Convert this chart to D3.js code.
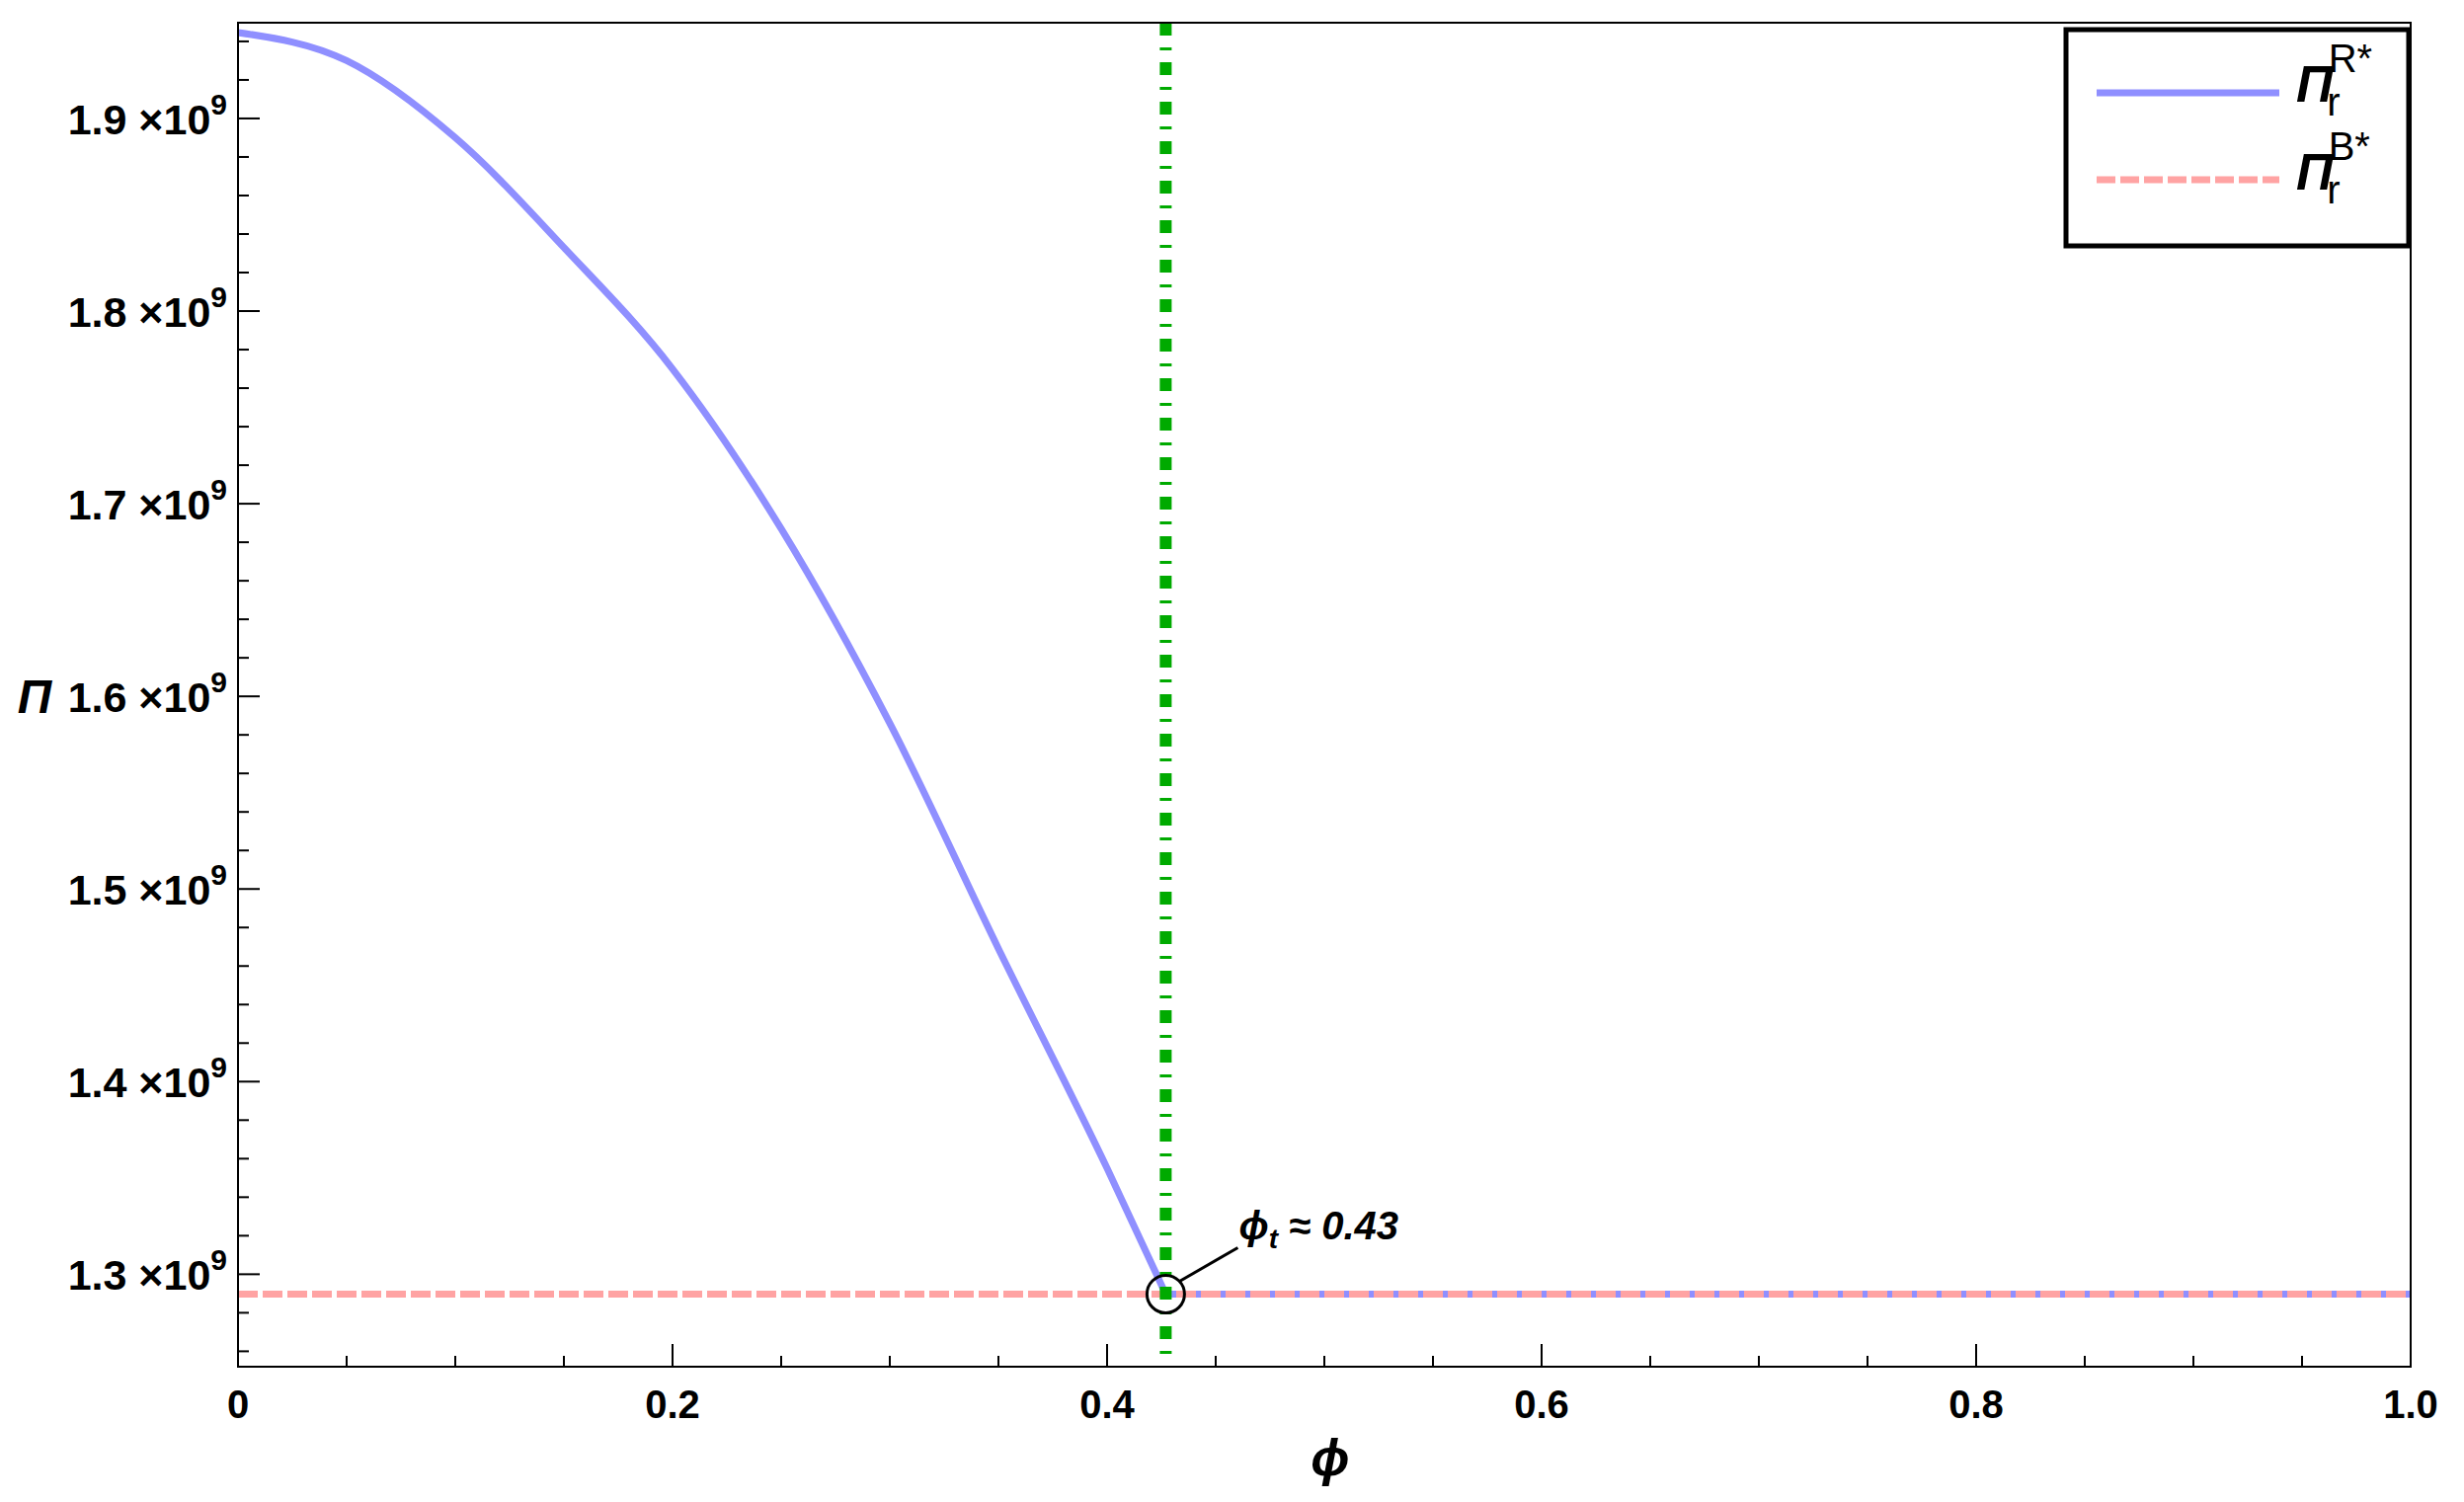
<!DOCTYPE html><html><head><meta charset="utf-8">
<script src="https://cdn.jsdelivr.net/npm/d3@7"></script>
<style>body{margin:0;background:#fff}text{font-family:"Liberation Sans",Arial,sans-serif;font-weight:bold}</style>
</head><body><svg id="c" width="2495" height="1521"></svg><script>
const phiR=[0,0.05,0.1,0.15,0.2,0.25,0.3,0.35,0.4,0.427];
const piR=[1.9446,1.930,1.890,1.833,1.770,1.687,1.586,1.469,1.355,1.2897];
const piB=1.2897;
const phiT=0.427;
const xTicks=[0,0.2,0.4,0.6,0.8,1.0];
const yTicks=[1.3,1.4,1.5,1.6,1.7,1.8,1.9];
const svg=d3.select("#c");
const L=241,R=2441,T=23,B=1384;
const x=d3.scaleLinear().domain([0,1]).range([L,R]);
const y=d3.scaleLinear().domain([1.252,1.9497]).range([B,T]);
const g=svg.append("g");
d3.range(0,1.0001,0.05).forEach(v=>{const maj=Math.abs(v*5-Math.round(v*5))<1e-6;
 g.append("line").attr("x1",x(v)).attr("x2",x(v)).attr("y1",B).attr("y2",B-(maj?23:11)).attr("stroke","#000").attr("stroke-width",2);});
d3.range(1.26,1.95,0.02).forEach(v=>{const maj=Math.abs(v*10-Math.round(v*10))<1e-6;
 g.append("line").attr("x1",L).attr("x2",L+(maj?22:11)).attr("y1",y(v)).attr("y2",y(v)).attr("stroke","#000").attr("stroke-width",2);});
xTicks.forEach(v=>g.append("text").attr("x",x(v)).attr("y",B+52).attr("text-anchor","middle").attr("font-size",40).text(v===0?"0":v.toFixed(1)));
yTicks.forEach(v=>{const t=g.append("text").attr("x",230).attr("y",y(v)+16).attr("text-anchor","end").attr("font-size",43);
 t.append("tspan").text(v.toFixed(1)+" ×10");t.append("tspan").attr("dy",-20).attr("font-size",30).text("9");});
const line=d3.line().x(d=>x(d[0])).y(d=>y(d[1])).curve(d3.curveMonotoneX);
g.append("path").attr("d",line(phiR.map((p,i)=>[p,piR[i]]))).attr("fill","none").attr("stroke","#8f8fff").attr("stroke-width",7);
g.append("line").attr("x1",x(phiT)).attr("x2",x(1)).attr("y1",y(piB)).attr("y2",y(piB)).attr("stroke","#8f8fff").attr("stroke-width",7);
g.append("line").attr("x1",x(0)).attr("x2",x(1)).attr("y1",y(piB)).attr("y2",y(piB)).attr("stroke","#ffa3a3").attr("stroke-width",7).attr("stroke-dasharray","20,5");
g.append("line").attr("x1",x(phiT)).attr("x2",x(phiT)).attr("y1",T).attr("y2",B).attr("stroke","#00aa00").attr("stroke-width",12).attr("stroke-dasharray","13,12,3,12");
g.append("rect").attr("x",L).attr("y",T).attr("width",R-L).attr("height",B-T).attr("fill","none").attr("stroke","#000").attr("stroke-width",2);
const cx=x(phiT),cy=y(piB);
g.append("circle").attr("cx",cx).attr("cy",cy).attr("r",19).attr("fill","none").attr("stroke","#000").attr("stroke-width",3);
g.append("line").attr("x1",cx+14).attr("y1",cy-13).attr("x2",cx+73).attr("y2",cy-47).attr("stroke","#000").attr("stroke-width",3);
const at=g.append("text").attr("x",cx+74).attr("y",cy-55).attr("font-size",40).attr("font-style","italic");
at.append("tspan").text("ϕ");at.append("tspan").attr("dy",9).attr("font-size",28).text("t");at.append("tspan").attr("dy",-9).text("  ≈ 0.43");
g.append("text").attr("x",35).attr("y",722).attr("text-anchor","middle").attr("font-size",48).attr("font-style","italic").text("Π");
g.append("text").attr("x",1347).attr("y",1494).attr("text-anchor","middle").attr("font-size",52).attr("font-style","italic").text("ϕ");
g.append("rect").attr("x",2092).attr("y",30).attr("width",347).attr("height",219).attr("fill","#fff").attr("stroke","#000").attr("stroke-width",5);
g.append("line").attr("x1",2123).attr("x2",2308).attr("y1",94).attr("y2",94).attr("stroke","#8f8fff").attr("stroke-width",7);
g.append("line").attr("x1",2123).attr("x2",2308).attr("y1",182).attr("y2",182).attr("stroke","#ffa3a3").attr("stroke-width",7).attr("stroke-dasharray","19,5");
[["R",103],["B",192]].forEach(([s,yy])=>{const t=g.append("text").attr("x",2325).attr("y",yy).attr("font-size",52).attr("font-style","italic");
 t.append("tspan").text("Π");
 t.append("tspan").attr("font-style","normal").attr("font-weight","normal").attr("font-size",40).attr("dx",-6).attr("dy",14).text("r");
 t.append("tspan").attr("font-style","normal").attr("font-weight","normal").attr("font-size",40).attr("dx",-12).attr("dy",-44).text(s+"*");});
</script></body></html>
